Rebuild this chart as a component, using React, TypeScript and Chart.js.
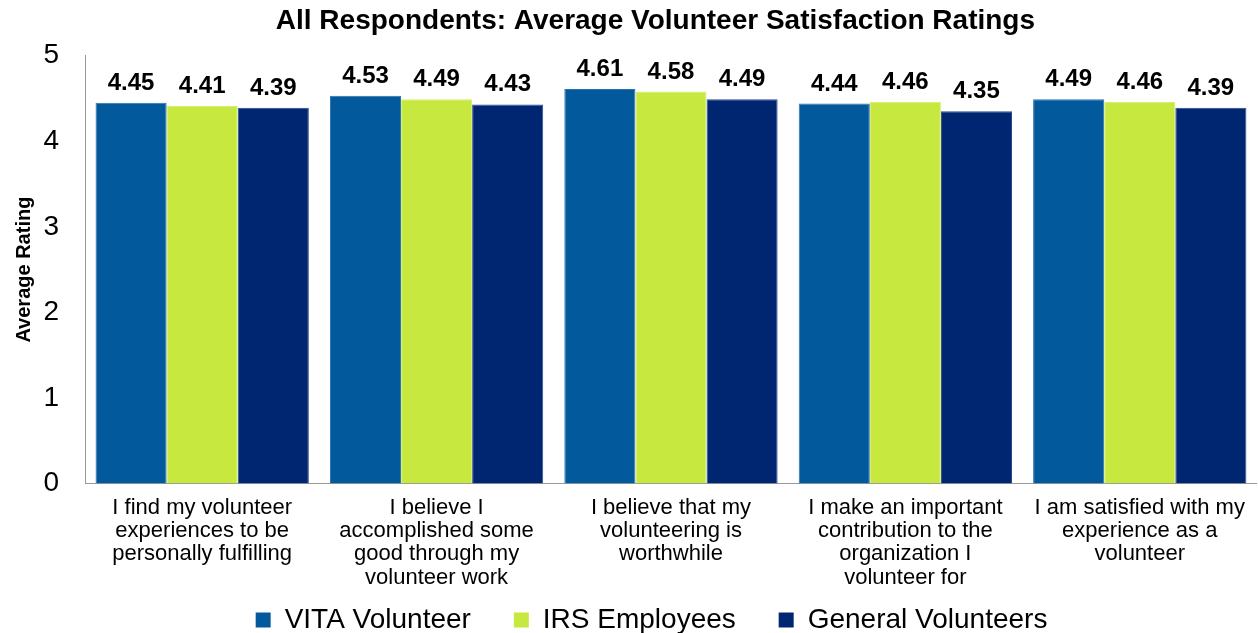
import React, { useEffect, useRef } from "react";
import { Chart, registerables } from "chart.js";

Chart.register(...registerables);

const categories: string[][] = [
  ["I find my volunteer", "experiences to be", "personally fulfilling"],
  ["I believe I", "accomplished some", "good through my", "volunteer work"],
  ["I believe that my", "volunteering is", "worthwhile"],
  ["I make an important", "contribution to the", "organization I", "volunteer for"],
  ["I am satisfied with my", "experience as a", "volunteer"],
];
const seriesNames = ["VITA Volunteer", "IRS Employees", "General Volunteers"];
const vitaVolunteer = [4.45, 4.53, 4.61, 4.44, 4.49];
const irsEmployees = [4.41, 4.49, 4.58, 4.46, 4.46];
const generalVolunteers = [4.39, 4.43, 4.49, 4.35, 4.39];
const yTicks = [0, 1, 2, 3, 4, 5];

const FONT = "'Liberation Sans', Arial, sans-serif";
const LEGEND_GAP = "\u00a0\u00a0\u00a0\u00a0\u00a0";
const TITLE_SHIFT = "\u00a0\u00a0\u00a0\u00a0";

const valueLabels = {
  id: "valueLabels",
  afterDatasetsDraw(chart: any) {
    const ctx = chart.ctx;
    ctx.save();
    ctx.font = `bold 24px ${FONT}`;
    ctx.fillStyle = "#000";
    ctx.textAlign = "center";
    ctx.textBaseline = "alphabetic";
    chart.data.datasets.forEach((ds: any, i: number) => {
      const meta = chart.getDatasetMeta(i);
      meta.data.forEach((bar: any, j: number) => {
        ctx.fillText(Number(ds.data[j]).toFixed(2), bar.x, bar.y - 13);
      });
    });
    ctx.restore();
  },
};

export default function App() {
  const ref = useRef<HTMLCanvasElement>(null);
  useEffect(() => {
    if (!ref.current) return;
    const chart = new Chart(ref.current, {
      type: "bar",
      data: {
        labels: categories,
        datasets: [
          { label: seriesNames[0], data: vitaVolunteer, backgroundColor: "#02599C", borderColor: "#2a70b0", borderWidth: 1 },
          { label: seriesNames[1], data: irsEmployees, backgroundColor: "#C6E83F", borderColor: "#d4ee6a", borderWidth: 1 },
          { label: seriesNames[2], data: generalVolunteers, backgroundColor: "#002672", borderColor: "#2a4a8a", borderWidth: 1 },
        ],
      },
      options: {
        animation: false,
        responsive: false,
        maintainAspectRatio: false,
        layout: { padding: { top: 0, right: 0, left: 0, bottom: 0 } },
        datasets: { bar: { categoryPercentage: 0.91, barPercentage: 1.0 } },
        plugins: {
          title: {
            display: true,
            fullSize: false,
            text: "All Respondents: Average Volunteer Satisfaction Ratings" + TITLE_SHIFT,
            font: { family: FONT, size: 28, weight: "bold" },
            color: "#000",
            padding: { top: 4, bottom: 18 },
          },
          legend: {
            position: "bottom",
            fullSize: false,
            maxHeight: 31,
            labels: {
              font: { family: FONT, size: 28 },
              color: "#000",
              boxWidth: 15,
              boxHeight: 15,
              padding: 4,
              useBorderRadius: false,
              generateLabels: (c: any) => {
                const items = Chart.defaults.plugins.legend.labels.generateLabels(c);
                return items.map((it: any) => ({ ...it, text: it.text + LEGEND_GAP, lineWidth: 0 }));
              },
            },
          },
          tooltip: { enabled: false },
        },
        scales: {
          x: {
            grid: { display: false, drawTicks: false },
            border: { color: "#999", width: 1 },
            ticks: {
              font: { family: FONT, size: 22, lineHeight: 1.05 },
              color: "#000",
              maxRotation: 0,
              autoSkip: false,
              padding: 13,
            },
          },
          y: {
            min: 0,
            max: 5,
            afterBuildTicks: (axis: any) => {
              axis.ticks = yTicks.map((v) => ({ value: v }));
            },
            afterFit: (axis: any) => {
              axis.width = 85;
            },
            grid: { display: false, drawOnChartArea: false, drawTicks: true, tickLength: 8, color: "#999" },
            border: { color: "#999", width: 1 },
            ticks: {
              font: { family: FONT, size: 28 },
              color: "#000",
              padding: 18,
            },
            title: {
              display: true,
              text: "Average Rating",
              font: { family: FONT, size: 20, weight: "bold" },
              color: "#000",
              padding: { top: 12, bottom: 4 },
            },
          },
        },
      },
      plugins: [valueLabels],
    });
    return () => chart.destroy();
  }, []);
  return (
    <div style={{ position: "fixed", left: 0, top: 0, width: 1258, height: 633, background: "#fff" }}>
      <canvas ref={ref} width={1258} height={633} style={{ width: 1258, height: 633 }} />
    </div>
  );
}
